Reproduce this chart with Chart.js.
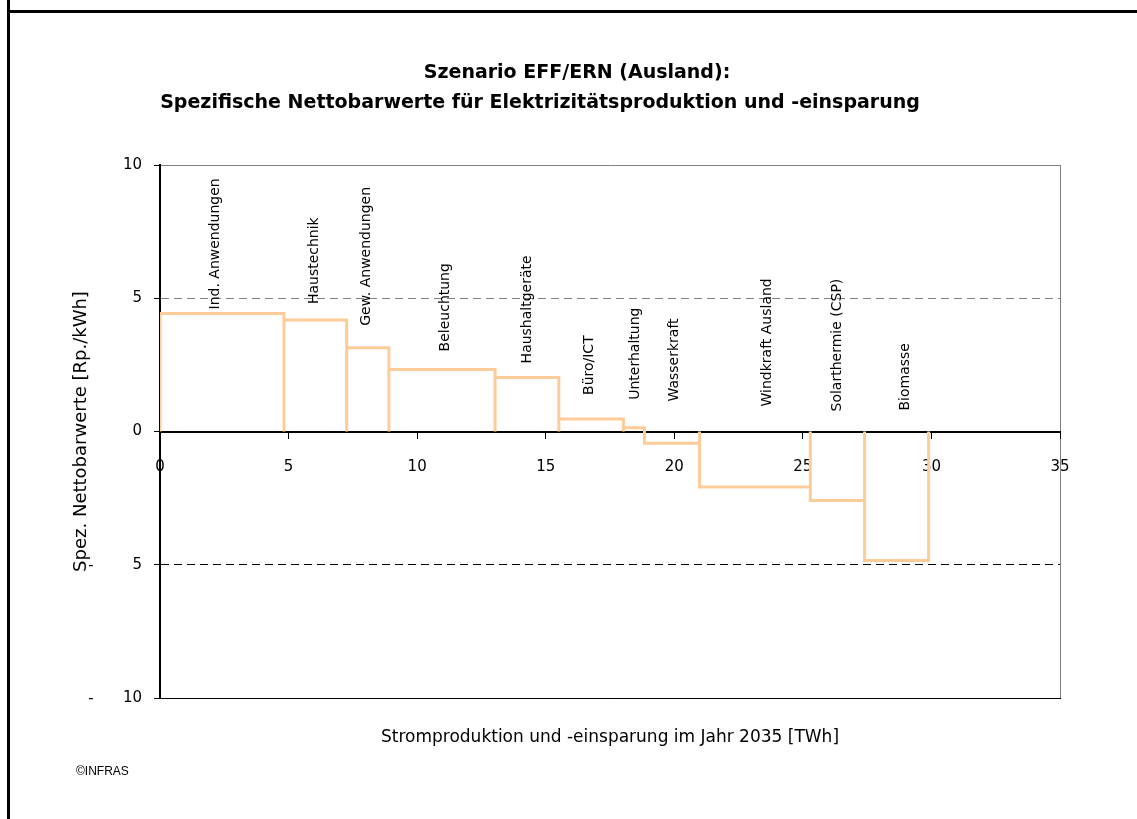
<!DOCTYPE html>
<html lang="de">
<head>
<meta charset="utf-8">
<title>Szenario EFF/ERN (Ausland)</title>
<script src="https://cdn.jsdelivr.net/npm/chart.js@4.4.1/dist/chart.umd.min.js"></script>
<style>
  html, body { margin: 0; padding: 0; background: #fff; overflow: hidden; }
  #wrap { position: relative; width: 1137px; height: 819px; }
  canvas { position: absolute; left: 0; top: 0; }
  .frameV { position: absolute; left: 7px; top: 0; width: 3px; height: 819px; background: #000; }
  .frameH { position: absolute; left: 7px; top: 10px; width: 1130px; height: 3px; background: #000; }
</style>
</head>
<body>
<div id="wrap">
  <canvas id="meritChart" width="1137" height="819"></canvas>
  <div class="frameV"></div>
  <div class="frameH"></div>
</div>
<script>
// categories in merit order
const categories = [
  "Ind. Anwendungen", "Haustechnik", "Gew. Anwendungen", "Beleuchtung",
  "Haushaltgeräte", "Büro/ICT", "Unterhaltung", "Wasserkraft",
  "Windkraft Ausland", "Solarthermie (CSP)", "Biomasse"
];
// Stromproduktion / -einsparung per category [TWh]
const amounts = [4.82, 2.44, 1.64, 4.13, 2.48, 2.51, 0.82, 2.14, 4.31, 2.11, 2.49];
// spez. Nettobarwerte [Rp./kWh]
const values = [4.43, 4.18, 3.14, 2.33, 2.03, 0.47, 0.14, -0.44, -2.08, -2.59, -4.84];

const titleLines = [
  "Szenario EFF/ERN (Ausland):",
  "Spezifische Nettobarwerte für Elektrizitätsproduktion und -einsparung"
];
const xTitle = "Stromproduktion und -einsparung im Jahr 2035 [TWh]";
const yTitle = "Spez. Nettobarwerte [Rp./kWh]";

const FONT = "'DejaVu Sans', sans-serif";

// each category is one closed step: up from 0, across, back down to 0
const starts = [];
const stepPoints = [];
let cum = 0;
categories.forEach((c, i) => {
  const end = cum + amounts[i];
  starts.push(cum);
  stepPoints.push({x: cum, y: 0}, {x: cum, y: values[i]}, {x: end, y: values[i]}, {x: end, y: 0}, {x: end, y: null});
  cum = end;
});

const extras = {
  id: "extras",
  afterDatasetsDraw(chart, args, opts) {
    const {ctx, scales: {x, y}} = chart;
    ctx.save();
    ctx.fillStyle = "#000";
    ctx.font = "14px " + FONT;
    ctx.textAlign = "left";
    ctx.textBaseline = "middle";
    categories.forEach((name, i) => {
      const [dx, gap] = opts.nudge[i];
      const cx = x.getPixelForValue(starts[i] + amounts[i] / 2) + dx;
      const by = y.getPixelForValue(Math.max(values[i], 0)) - gap;
      ctx.save();
      ctx.translate(cx, by);
      ctx.rotate(-Math.PI / 2);
      ctx.fillText(name, 0, 0);
      ctx.restore();
    });
    ctx.restore();
  },
  afterDraw(chart) {
    const {ctx, scales: {y}} = chart;
    ctx.save();
    ctx.fillStyle = "#000";
    // minus signs of the negative y ticks sit apart from the number
    ctx.font = "15px " + FONT;
    ctx.textAlign = "center";
    ctx.textBaseline = "middle";
    y.ticks.forEach(t => {
      if (t.value < 0) ctx.fillText("-", 91, y.getPixelForValue(t.value) + 1);
    });
    ctx.font = "bold 19px " + FONT;
    ctx.fillText(titleLines[0], 577, 73);
    ctx.fillText(titleLines[1], 540, 103);
    ctx.font = "12px 'Liberation Sans', Arial, sans-serif";
    ctx.textAlign = "left";
    ctx.fillText("©INFRAS", 76, 772);
    ctx.restore();
  }
};

new Chart(document.getElementById("meritChart"), {
  type: "line",
  data: {
    datasets: [{
      label: "Nettobarwert",
      data: stepPoints,
      borderColor: "#FFCC99",
      borderWidth: 3,
      borderJoinStyle: "miter",
      pointRadius: 0,
      tension: 0,
      spanGaps: false
    }]
  },
  options: {
    responsive: false,
    animation: false,
    layout: { padding: { top: 165, right: 77, left: 0, bottom: 0 } },
    plugins: {
      legend: { display: false },
      tooltip: { enabled: false },
      extras: {
        nudge: [[-7, 4], [-1, 16], [-1, 22], [3, 18], [0, 14], [-2, 24], [1, 28], [2, 30], [12, 25], [0, 20], [9, 21]]
      }
    },
    scales: {
      x: {
        type: "linear",
        position: { y: 0 },
        min: 0, max: 35,
        z: 1,
        ticks: { stepSize: 5, padding: 21, color: "#000", font: { size: 15, family: FONT } },
        grid: {
          color: c => (c.tick && c.tick.value === 35) ? "#808080" : "rgba(0,0,0,0)",
          tickColor: "#000",
          tickLength: 6
        },
        border: { color: "#000", width: 2 }
      },
      x2: {
        type: "linear",
        position: "bottom",
        min: 0, max: 35,
        afterFit: s => { s.height = 121; },
        ticks: { display: false },
        grid: { drawOnChartArea: false, drawTicks: false },
        border: { color: "#000", width: 1 },
        title: { display: true, text: xTitle, color: "#000", font: { size: 17, family: FONT }, padding: { top: 0, bottom: 71 } }
      },
      y: {
        min: -10, max: 10,
        afterFit: s => { s.width = 160; },
        ticks: {
          stepSize: 5, padding: 12, color: "#000",
          font: { size: 15, family: FONT },
          callback: v => Math.abs(v)
        },
        grid: {
          color: c => (c.tick && c.tick.value > 0) ? "#808080" : "#000",
          tickColor: "#000",
          tickLength: 6
        },
        border: {
          color: "#000", width: 2,
          dash: c => (c.tick && Math.abs(c.tick.value) === 5) ? [8, 5] : []
        },
        title: { display: true, text: yTitle, color: "#000", font: { size: 18, family: FONT }, padding: { top: 71, bottom: 0 } }
      }
    }
  },
  plugins: [extras]
});
</script>
</body>
</html>
